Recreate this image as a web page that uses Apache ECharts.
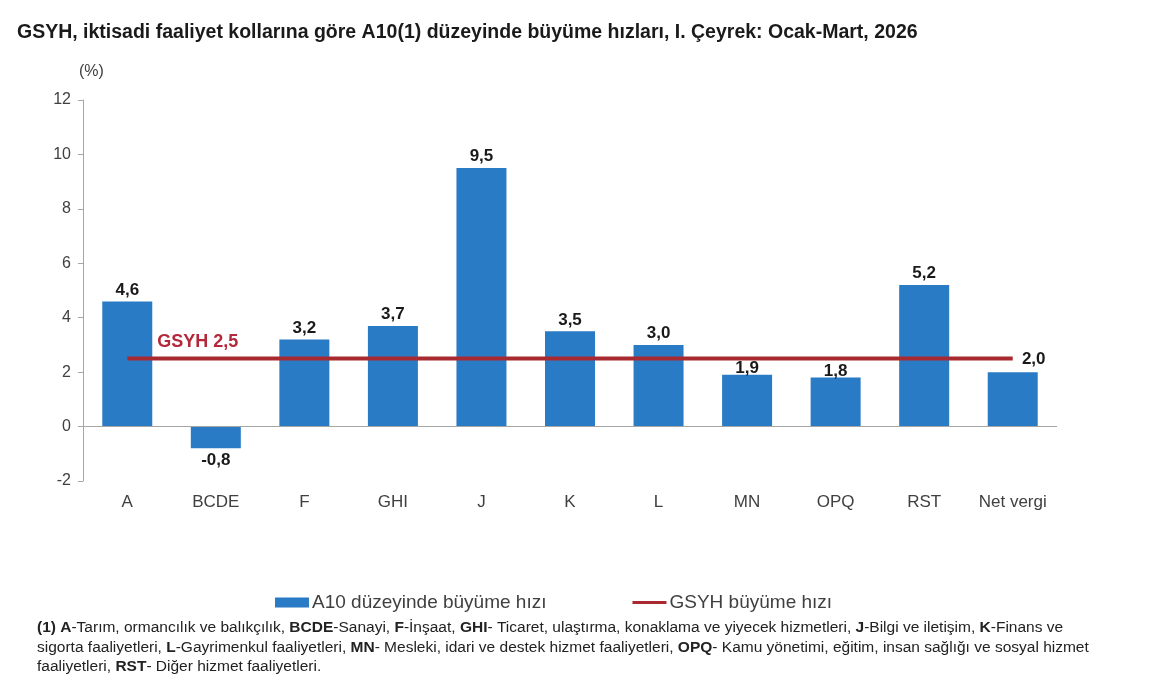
<!DOCTYPE html>
<html>
<head>
<meta charset="utf-8">
<script src="https://cdn.jsdelivr.net/npm/echarts@6/dist/echarts.min.js"></script>
<style>
  html, body { margin: 0; padding: 0; background: #ffffff; }
  #chart { width: 1159px; height: 700px; }
</style>
</head>
<body>
<div id="chart"></div>
<script>
// Sector codes (A10 level) and their Q1 growth rates, %
const categories = ['A', 'BCDE', 'F', 'GHI', 'J', 'K', 'L', 'MN', 'OPQ', 'RST', 'Net vergi'];
const growth = [4.6, -0.8, 3.2, 3.7, 9.5, 3.5, 3.0, 1.9, 1.8, 5.2, 2.0];
// GDP growth, drawn as a flat line across all sectors
const gdpGrowth = [2.5, 2.5, 2.5, 2.5, 2.5, 2.5, 2.5, 2.5, 2.5, 2.5, 2.5];
const yTicks = { min: -2, max: 12, interval: 2 };

const FONT = '"Liberation Sans", Arial, sans-serif';
const BAR_COLOR = '#2a7bc6';
const LINE_COLOR = '#a82a30';
const TEXT = '#404040';
const AXIS = '#a6a6a6';

function fmt(v) {
  return v.toFixed(1).replace('.', ',');
}

// Per-bar label tweaks: some labels are nudged to sit clear of the GDP line
const barData = growth.map((v, i) => {
  const item = { value: v };
  if (v < 0) {
    item.label = { position: 'bottom', distance: 3 };
  } else if (categories[i] === 'MN' || categories[i] === 'OPQ') {
    item.label = { distance: -2 };
  } else if (categories[i] === 'Net vergi') {
    item.label = { offset: [21, -1] };
  }
  return item;
});

const lineData = gdpGrowth.map((v, i) => {
  if (i !== 0) return v;
  return {
    value: v,
    label: {
      show: true,
      position: 'right',
      distance: 0,
      offset: [30, -17],
      formatter: 'GSYH ' + fmt(v),
      color: '#b3283a',
      fontWeight: 'bold',
      fontSize: 18,
      fontFamily: FONT,
    },
  };
});

// Footnote lines, bold sector codes via rich text
const footnote = [
  '{b|(1) A}{n|-Tarım, ormancılık ve balıkçılık, }{b|BCDE}{n|-Sanayi, }{b|F}{n|-İnşaat, }{b|GHI}{n|- Ticaret, ulaştırma, konaklama ve yiyecek hizmetleri, }{b|J}{n|-Bilgi ve iletişim, }{b|K}{n|-Finans ve}',
  '{n|sigorta faaliyetleri, }{b|L}{n|-Gayrimenkul faaliyetleri, }{b|MN}{n|- Mesleki, idari ve destek hizmet faaliyetleri, }{b|OPQ}{n|- Kamu yönetimi, eğitim, insan sağlığı ve sosyal hizmet}',
  '{n|faaliyetleri, }{b|RST}{n|- Diğer hizmet faaliyetleri.}',
];

const chart = echarts.init(document.getElementById('chart'));

const option = {
  backgroundColor: '#ffffff',
  animation: false,
  textStyle: { fontFamily: FONT },

  title: {
    text: 'GSYH, iktisadi faaliyet kollarına göre A10(1) düzeyinde büyüme hızları, I. Çeyrek: Ocak-Mart, 2026',
    left: 12,
    top: 18,
    textStyle: { color: '#1a1a1a', fontSize: 19.5, fontWeight: 'bold', fontFamily: FONT },
  },

  legend: {
    left: 270,
    top: 588,
    itemWidth: 34,
    itemHeight: 10,
    itemGap: 86,
    textStyle: { color: TEXT, fontSize: 19, fontFamily: FONT, padding: [0, 0, 0, -2] },
    data: [
      { name: 'A10 düzeyinde büyüme hızı', icon: 'rect' },
      { name: 'GSYH büyüme hızı', icon: 'path://M0,0L34,0L34,3L0,3Z' },
    ],
  },

  grid: { left: 83, right: 102, top: 100, bottom: 219, containLabel: false },

  xAxis: {
    type: 'category',
    data: categories,
    axisLine: { show: false, onZero: false },
    axisTick: { show: false },
    axisLabel: { color: TEXT, fontSize: 17, margin: 13, fontFamily: FONT },
  },

  yAxis: {
    type: 'value',
    min: yTicks.min,
    max: yTicks.max,
    interval: yTicks.interval,
    name: '(%)',
    nameLocation: 'end',
    nameGap: 20,
    nameTextStyle: { color: TEXT, fontSize: 16, fontFamily: FONT, align: 'left', padding: [0, 0, 0, -4] },
    axisLine: { show: true, lineStyle: { color: AXIS, width: 1 } },
    axisTick: { show: true, length: 5, lineStyle: { color: AXIS } },
    axisLabel: { color: TEXT, fontSize: 16, margin: 12, fontFamily: FONT },
    splitLine: { show: false },
  },

  series: [
    {
      name: 'A10 düzeyinde büyüme hızı',
      type: 'bar',
      data: barData,
      barWidth: 50,
      itemStyle: { color: BAR_COLOR },
      label: {
        show: true,
        position: 'top',
        distance: 3,
        color: '#1a1a1a',
        fontSize: 17,
        fontWeight: 'bold',
        fontFamily: FONT,
        formatter: (p) => fmt(p.value),
      },
      markLine: {
        silent: true,
        symbol: 'none',
        label: { show: false },
        lineStyle: { color: AXIS, width: 1, type: 'solid' },
        data: [{ yAxis: 0 }],
      },
      z: 2,
    },
    {
      name: 'GSYH büyüme hızı',
      type: 'line',
      data: lineData,
      symbol: 'circle',
      symbolSize: 0,
      lineStyle: { color: LINE_COLOR, width: 4 },
      itemStyle: { color: LINE_COLOR },
      z: 3,
    },
  ],

  graphic: footnote.map((t, i) => ({
    type: 'text',
    left: 37,
    top: 620 + i * 19.5,
    style: {
      text: t,
      fill: '#222222',
      rich: {
        n: { fontSize: 15.5, fontFamily: FONT, fill: '#222222' },
        b: { fontSize: 15.5, fontFamily: FONT, fontWeight: 'bold', fill: '#222222' },
      },
    },
  })),
};

chart.setOption(option);
</script>
</body>
</html>
